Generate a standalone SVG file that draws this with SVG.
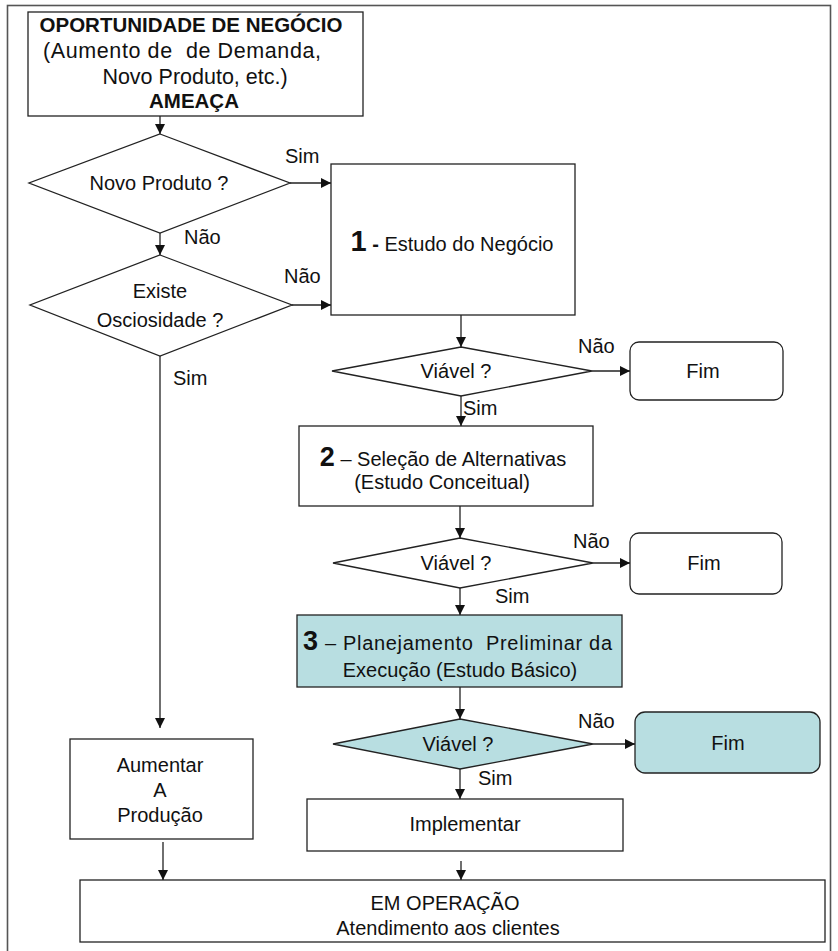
<svg xmlns="http://www.w3.org/2000/svg" width="838" height="951" viewBox="0 0 838 951">
  <style>
    .box { fill: #ffffff; stroke: #222; stroke-width: 1.3; }
    .hl { fill: #b8dee1; }
    .lbl { font-family: "Liberation Sans", Arial, sans-serif; font-size: 20px; fill: #111; }
    .head { font-size: 20.5px; font-weight: bold; }
    .sub { font-size: 21.5px; }
    .b { font-weight: bold; }
    .big { font-size: 29px; font-weight: bold; }
    .num { font-size: 27px; font-weight: bold; }
    .mid { text-anchor: middle; }
    .edge { stroke: #222; stroke-width: 1.3; fill: none; marker-end: url(#arrow); }
  </style>
  <defs>
    <marker id="arrow" viewBox="0 0 10 10" refX="10" refY="5" markerWidth="10" markerHeight="10" markerUnits="userSpaceOnUse" orient="auto">
      <path d="M0,0 L10,5 L0,10 z" fill="#111"/>
    </marker>
  </defs>

  <rect width="838" height="951" fill="#ffffff"/>
  <!-- outer frame, bottom edge runs past the canvas -->
  <rect x="7.5" y="5.5" width="823" height="970" fill="none" stroke="#555" stroke-width="1.6"/>

  <g id="oportunidade">
    <rect class="box" x="28" y="12" width="335" height="104"/>
    <text class="lbl head mid" x="191" y="32">OPORTUNIDADE DE NEGÓCIO</text>
    <text class="lbl sub mid" x="182" y="58" textLength="278" xml:space="preserve">(Aumento de  de Demanda,</text>
    <text class="lbl sub mid" x="195" y="84">Novo Produto, etc.)</text>
    <text class="lbl head mid" x="194" y="108">AMEAÇA</text>
  </g>

  <g id="novo-produto">
    <polygon class="box" points="160,134 290,183 160,233 29,183"/>
    <text class="lbl mid" x="159" y="190">Novo Produto ?</text>
  </g>

  <g id="osciosidade">
    <polygon class="box" points="160,255 292,305 160,356 30,305"/>
    <text class="lbl mid" x="160" y="298">Existe</text>
    <text class="lbl mid" x="160" y="327">Osciosidade ?</text>
  </g>

  <g id="estudo-negocio">
    <rect class="box" x="331" y="164" width="244" height="151"/>
    <text class="lbl mid" x="452" y="251"><tspan class="big">1</tspan><tspan class="b"> - </tspan>Estudo do Negócio</text>
  </g>

  <g id="viavel-1">
    <polygon class="box" points="461,347 592,371 461,396 332,371"/>
    <text class="lbl mid" x="456" y="378">Viável ?</text>
  </g>

  <g id="fim-1">
    <rect class="box" x="630" y="342" width="153" height="58" rx="9"/>
    <text class="lbl mid" x="703" y="378">Fim</text>
  </g>

  <g id="selecao">
    <rect class="box" x="299" y="426" width="294" height="80"/>
    <text class="lbl mid" x="443" y="466"><tspan class="num">2</tspan> – Seleção de Alternativas</text>
    <text class="lbl mid" x="442" y="489">(Estudo Conceitual)</text>
  </g>

  <g id="viavel-2">
    <polygon class="box" points="460,538 593,563 460,588 333,563"/>
    <text class="lbl mid" x="456" y="570">Viável ?</text>
  </g>

  <g id="fim-2">
    <rect class="box" x="630" y="533" width="152" height="61" rx="9"/>
    <text class="lbl mid" x="704" y="570">Fim</text>
  </g>

  <g id="planejamento">
    <rect class="box hl" x="297" y="615" width="325" height="72"/>
    <text class="lbl" x="303" y="650" xml:space="preserve" textLength="309"><tspan class="num">3</tspan> – Planejamento  Preliminar da</text>
    <text class="lbl mid" x="460" y="677">Execução (Estudo Básico)</text>
  </g>

  <g id="viavel-3">
    <polygon class="box hl" points="460,719 593,744 460,769 333,744"/>
    <text class="lbl mid" x="458" y="751">Viável ?</text>
  </g>

  <g id="fim-3">
    <rect class="box hl" x="635" y="712" width="185" height="61" rx="10"/>
    <text class="lbl mid" x="728" y="750">Fim</text>
  </g>

  <g id="implementar">
    <rect class="box" x="307" y="799" width="316" height="52"/>
    <text class="lbl mid" x="465" y="831">Implementar</text>
  </g>

  <g id="aumentar">
    <rect class="box" x="70" y="739" width="183" height="100"/>
    <text class="lbl mid" x="160" y="772">Aumentar</text>
    <text class="lbl mid" x="160" y="797">A</text>
    <text class="lbl mid" x="160" y="822">Produção</text>
  </g>

  <g id="em-operacao">
    <rect class="box" x="80" y="880" width="745" height="62"/>
    <text class="lbl mid" x="445" y="910">EM OPERAÇÃO</text>
    <text class="lbl mid" x="448" y="935">Atendimento aos clientes</text>
  </g>

  <g id="connectors">
    <line class="edge" x1="160" y1="116" x2="160" y2="134"/>
    <line class="edge" x1="290" y1="183" x2="331" y2="183"/>
    <line class="edge" x1="160" y1="233" x2="160" y2="255"/>
    <line class="edge" x1="292" y1="305" x2="331" y2="305"/>
    <line class="edge" x1="160" y1="356" x2="160" y2="728"/>
    <line class="edge" x1="461" y1="315" x2="461" y2="347"/>
    <line class="edge" x1="592" y1="371" x2="630" y2="371"/>
    <line class="edge" x1="461" y1="396" x2="461" y2="426"/>
    <line class="edge" x1="460" y1="506" x2="460" y2="538"/>
    <line class="edge" x1="593" y1="563" x2="630" y2="563"/>
    <line class="edge" x1="460" y1="588" x2="460" y2="615"/>
    <line class="edge" x1="460" y1="687" x2="460" y2="719"/>
    <line class="edge" x1="593" y1="744" x2="635" y2="744"/>
    <line class="edge" x1="460" y1="769" x2="460" y2="799"/>
    <line class="edge" x1="461" y1="861" x2="461" y2="880"/>
    <line class="edge" x1="163" y1="842" x2="163" y2="880"/>
    <text class="lbl" x="285" y="163">Sim</text>
    <text class="lbl" x="184" y="244">Não</text>
    <text class="lbl" x="284" y="283">Não</text>
    <text class="lbl" x="173" y="385">Sim</text>
    <text class="lbl" x="578" y="353">Não</text>
    <text class="lbl" x="463" y="415">Sim</text>
    <text class="lbl" x="573" y="548">Não</text>
    <text class="lbl" x="495" y="603">Sim</text>
    <text class="lbl" x="578" y="728">Não</text>
    <text class="lbl" x="478" y="785">Sim</text>
  </g>
</svg>
